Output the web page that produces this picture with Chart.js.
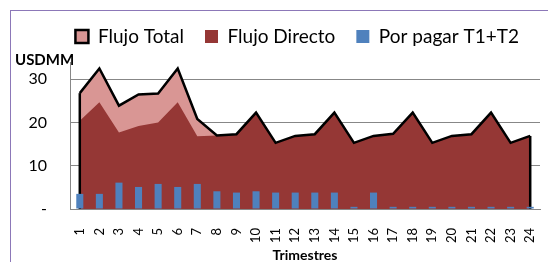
<!DOCTYPE html>
<html>
<head>
<meta charset="utf-8">
<script src="https://cdn.jsdelivr.net/npm/chart.js@4.4.1/dist/chart.umd.min.js"></script>
<style>
  html, body { margin: 0; padding: 0; background: #ffffff; overflow: hidden; }
  #wrap { position: relative; width: 548px; height: 262px; overflow: hidden; }
  #frame { position: absolute; left: 10px; top: 10px; width: 700px; height: 400px; border: 1px solid #8c78b8; }
  #c { position: absolute; left: 0; top: 0; }
</style>
</head>
<body>
<div id="wrap">
  <div id="frame"></div>
  <canvas id="c" width="548" height="262"></canvas>
</div>
<script>
// ---- Data ----
const categories = ['1','2','3','4','5','6','7','8','9','10','11','12','13','14','15','16','17','18','19','20','21','22','23','24'];
const flujoTotal = [26.8, 32.5, 23.9, 26.5, 26.7, 32.5, 20.8, 17.0, 17.3, 22.3, 15.3, 16.9, 17.3, 22.3, 15.3, 16.9, 17.4, 22.3, 15.3, 16.9, 17.3, 22.3, 15.3, 16.9];
const flujoDirecto = [20.4, 24.7, 17.7, 19.2, 20.0, 24.7, 16.8, 17.0, 17.3, 22.3, 15.3, 16.9, 17.3, 22.3, 15.3, 16.9, 17.4, 22.3, 15.3, 16.9, 17.3, 22.3, 15.3, 16.9];
const porPagar = [3.5, 3.5, 6.1, 5.1, 5.8, 5.1, 5.8, 4.1, 3.8, 4.1, 3.8, 3.8, 3.8, 3.8, 0.5, 3.8, 0.5, 0.5, 0.5, 0.5, 0.5, 0.5, 0.5, 0.5];
const seriesNames = ['Flujo Total', 'Flujo Directo', 'Por pagar T1+T2'];
const yTickValues = [0, 10, 20, 30];
const yAxisLabel = 'USDMM';
const xAxisLabel = 'Trimestres';

const FONT = 'Lato, "Open Sans", "DejaVu Sans", sans-serif';

// Draws the vertical side edges of the Flujo Total area outline
const areaEdges = {
  id: 'areaEdges',
  afterDatasetDraw(chart, args) {
    if (args.index !== 0) return;
    const ds = chart.data.datasets[0];
    const pts = args.meta.data;
    if (!pts.length) return;
    const y0 = chart.scales.y.getPixelForValue(0);
    const ctx = chart.ctx;
    ctx.save();
    ctx.strokeStyle = ds.borderColor;
    ctx.lineWidth = ds.borderWidth;
    [pts[0], pts[pts.length - 1]].forEach(p => {
      ctx.beginPath();
      ctx.moveTo(p.x, p.y);
      ctx.lineTo(p.x, y0);
      ctx.stroke();
    });
    ctx.restore();
  }
};

new Chart(document.getElementById('c'), {
  type: 'bar',
  data: {
    labels: categories,
    datasets: [
      {
        type: 'line',
        label: seriesNames[0],
        data: flujoTotal,
        order: 2,
        borderColor: '#000000',
        borderWidth: 2.5,
        backgroundColor: '#d99694',
        fill: 'origin',
        pointRadius: 0,
        tension: 0,
        borderJoinStyle: 'miter'
      },
      {
        type: 'line',
        label: seriesNames[1],
        data: flujoDirecto,
        order: 1,
        borderColor: '#953735',
        borderWidth: 0,
        backgroundColor: '#953735',
        fill: 'origin',
        pointRadius: 0,
        tension: 0
      },
      {
        type: 'bar',
        label: seriesNames[2],
        data: porPagar,
        order: 0,
        backgroundColor: '#4f81bd',
        borderWidth: 0,
        categoryPercentage: 1,
        barPercentage: 0.36
      }
    ]
  },
  options: {
    responsive: false,
    animation: false,
    devicePixelRatio: 1,
    layout: { padding: { left: 15, right: 8, top: 6, bottom: 0 } },
    plugins: {
      filler: { drawTime: 'beforeDatasetsDraw' },
      tooltip: { enabled: false },
      legend: {
        position: 'top',
        align: 'end',
        reverse: true,
        labels: {
          color: '#000000',
          font: { family: FONT, size: 19 },
          boxWidth: 13,
          boxHeight: 13,
          padding: 21
        }
      },
      title: {
        display: true,
        text: yAxisLabel,
        align: 'start',
        position: 'top',
        weight: 500,
        color: '#000000',
        font: { family: FONT, size: 15, weight: 'bold', lineHeight: '4px' },
        padding: { top: 2, bottom: 0 }
      }
    },
    scales: {
      x: {
        offset: true,
        grid: { display: false, drawTicks: false },
        border: { display: true, color: '#878787', width: 1 },
        ticks: {
          color: '#000000',
          font: { family: FONT, size: 13 },
          minRotation: 90,
          maxRotation: 90,
          autoSkip: false,
          padding: 19
        },
        title: {
          display: true,
          text: xAxisLabel,
          color: '#000000',
          font: { family: FONT, size: 14, weight: 'bold', lineHeight: 1 },
          padding: { top: 0, bottom: 0 }
        },
        afterFit(axis) {
          axis.height = 53;
          axis.paddingLeft = 0;
          axis.paddingRight = 0;
        }
      },
      y: {
        min: 0,
        max: 34,
        grid: { color: '#878787', lineWidth: 1, drawTicks: false },
        border: { display: true, color: '#878787', width: 1 },
        afterBuildTicks(axis) {
          axis.ticks = yTickValues.map(v => ({ value: v }));
        },
        ticks: {
          color: '#000000',
          font: { family: FONT, size: 16 },
          padding: 23,
          callback: (v) => (v === 0 ? '-' : String(v))
        },
        afterFit(axis) {
          axis.width = 55;
          axis.paddingTop = 0;
          axis.paddingBottom = 0;
        }
      }
    }
  },
  plugins: [areaEdges]
});
</script>
</body>
</html>
